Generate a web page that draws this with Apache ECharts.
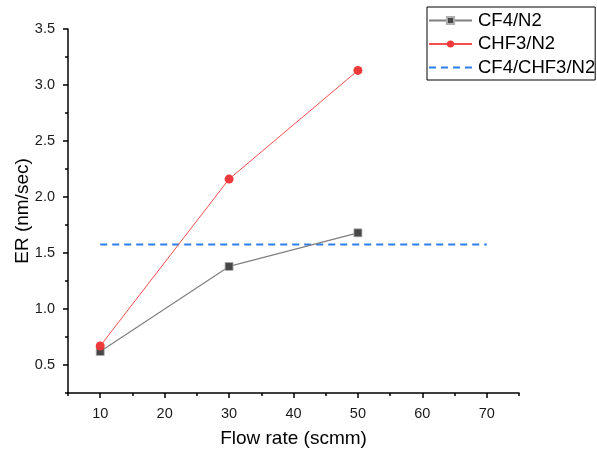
<!DOCTYPE html>
<html><head><meta charset="utf-8">
<script src="https://cdn.jsdelivr.net/npm/echarts@6/dist/echarts.min.js"></script>
<style>html,body{margin:0;padding:0;background:#fff}#c{width:597px;height:453px}</style>
</head><body><div id="c"></div>
<script>
var flowRates = [10, 30, 50];
var cf4n2 = [0.62, 1.38, 1.68];
var chf3n2 = [0.67, 2.16, 3.13];
var mixRange = [10, 70];
var mixValue = 1.575;
var xLabels = [10, 20, 30, 40, 50, 60, 70];
var xMinor = [5, 15, 25, 35, 45, 55, 65, 75];
var yLabels = [0.5, 1.0, 1.5, 2.0, 2.5, 3.0, 3.5];
var yMinor = [0.25, 0.75, 1.25, 1.75, 2.25, 2.75, 3.25];

var FONT = 'Liberation Sans, Arial, sans-serif';
var chart = echarts.init(document.getElementById('c'));
function pairs(xs, ys){ return xs.map(function(x,i){ return [x, ys[i]]; }); }
chart.setOption({
  animation: false,
  backgroundColor: '#fff',
  grid: { left: 68, right: 78, top: 29, bottom: 60, containLabel: false, outerBoundsMode: 'none' },
  legend: {
    orient: 'vertical', left: 427, top: 7,
    borderColor: '#000', borderWidth: 1, borderRadius: 0,
    padding: [4, 0, 3, 1], itemGap: 4.5, itemWidth: 43, itemHeight: 9,
    textStyle: { fontFamily: FONT, fontSize: 18.5, color: '#000', padding: [0, 0, 0, 1] },
    data: ['CF4/N2', 'CHF3/N2',
      { name: 'CF4/CHF3/N2', itemStyle: { color: 'rgba(0,0,0,0)', borderWidth: 0 } }]
  },
  xAxis: [{
    type: 'value', min: 5, max: 75, interval: 5,
    name: 'Flow rate (scmm)', nameLocation: 'middle', nameGap: 36,
    nameTextStyle: { fontFamily: FONT, fontSize: 19, color: '#000' },
    axisLine: { lineStyle: { color: '#000', width: 1.5 } },
    axisTick: { show: true, length: 5, customValues: xLabels, lineStyle: { color: '#000', width: 1.5 } },
    axisLabel: { customValues: xLabels, fontFamily: FONT, fontSize: 14.5, color: '#1a1a1a', margin: 13 },
    splitLine: { show: false }
  }, {
    type: 'value', min: 5, max: 75, interval: 5, position: 'bottom',
    axisLine: { show: false },
    axisTick: { show: true, length: 3, customValues: xMinor, lineStyle: { color: '#000', width: 1.5 } },
    axisLabel: { show: false },
    splitLine: { show: false }
  }],
  yAxis: [{
    type: 'value', min: 0.25, max: 3.5, interval: 0.25,
    name: 'ER (nm/sec)', nameLocation: 'middle', nameGap: 36, nameRotate: 90, nameMoveOverlap: false,
    nameTextStyle: { fontFamily: FONT, fontSize: 19, color: '#000' },
    axisLine: { show: true, lineStyle: { color: '#000', width: 1.5 } },
    axisTick: { show: true, length: 5, customValues: yLabels, lineStyle: { color: '#000', width: 1.5 } },
    axisLabel: { customValues: yLabels, fontFamily: FONT, fontSize: 14.5, color: '#1a1a1a', margin: 13,
      formatter: function(v){ return v.toFixed(1); } },
    splitLine: { show: false }
  }, {
    type: 'value', min: 0.25, max: 3.5, interval: 0.25, position: 'left',
    axisLine: { show: false },
    axisTick: { show: true, length: 3, customValues: yMinor, lineStyle: { color: '#000', width: 1.5 } },
    axisLabel: { show: false },
    splitLine: { show: false }
  }],
  series: [{
    name: 'CF4/N2', type: 'line', data: pairs(flowRates, cf4n2),
    symbol: 'rect', symbolSize: 8,
    lineStyle: { color: '#808080', width: 1.2 },
    itemStyle: { color: '#474747', borderColor: '#b0b0b0', borderWidth: 0.8 },
    z: 3
  }, {
    name: 'CHF3/N2', type: 'line', data: pairs(flowRates, chf3n2),
    symbol: 'circle', symbolSize: 9,
    lineStyle: { color: '#f25050', width: 1 },
    itemStyle: { color: '#ee3a3a', borderWidth: 0 },
    z: 4
  }, {
    name: 'CF4/CHF3/N2', type: 'line',
    data: mixRange.map(function(x){ return [x, mixValue]; }),
    symbol: 'none',
    lineStyle: { color: '#2d7ee6', width: 2, type: [7, 5] },
    itemStyle: { color: '#2d7ee6' },
    z: 2
  }]
});
</script></body></html>
